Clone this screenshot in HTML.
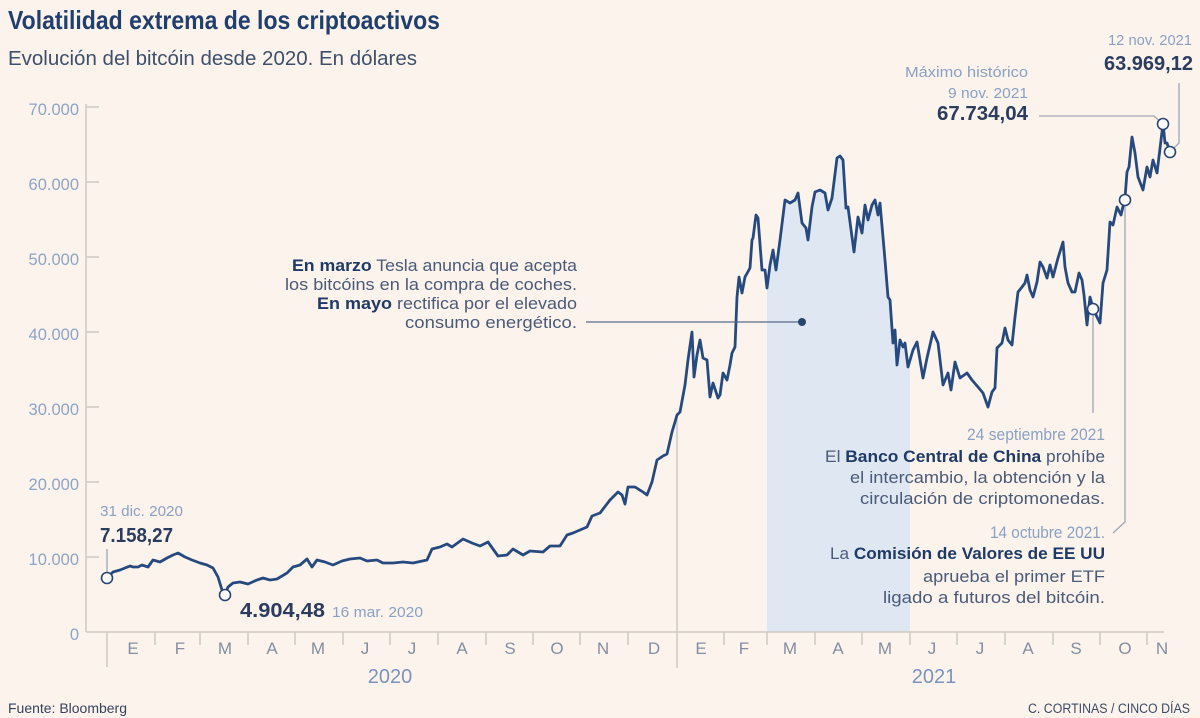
<!DOCTYPE html>
<html><head><meta charset="utf-8"><style>
html,body{margin:0;padding:0;background:#fcf4ec;}
svg{display:block;font-family:"Liberation Sans",sans-serif;}
</style></head><body>
<svg width="1200" height="718" viewBox="0 0 1200 718" xmlns="http://www.w3.org/2000/svg">
<defs>
<clipPath id="sh"><rect x="767" y="0" width="143" height="632"/></clipPath>
</defs>
<rect width="1200" height="718" fill="#fcf4ec"/>

<!-- title -->
<text x="8" y="29" font-size="26" font-weight="bold" fill="#213f6e" textLength="432" lengthAdjust="spacingAndGlyphs">Volatilidad extrema de los criptoactivos</text>
<text x="8" y="65" font-size="20" fill="#3e4f6c" textLength="409" lengthAdjust="spacingAndGlyphs">Evolución del bitcóin desde 2020. En dólares</text>

<!-- shaded area -->
<g clip-path="url(#sh)">
<polygon fill="#dfe7f3" points="767,632 767,288 770,265 773,250 776,270 780,240 785,200 790,203 795,200 798,193 802,223 806,228 808,240 812,207 815,192 820,190 825,193 828,210 832,198 837,158 840,156 843,160 846,208 848,207 852,237 854,252 858,217 862,233 865,205 868,220 872,205 875,200 878,215 880,203 885,260 888,297 890,300 893,343 895,330 897,365 900,340 903,347 905,343 908,367 913,350 917,342 917,632"/>
</g>

<!-- y axis -->
<g stroke="#cdc8c3" stroke-width="1.5" fill="none">
<line x1="86" y1="104" x2="86" y2="632"/>
<line x1="86" y1="107" x2="99" y2="107"/>
<line x1="86" y1="182" x2="99" y2="182"/>
<line x1="86" y1="257" x2="99" y2="257"/>
<line x1="86" y1="332" x2="99" y2="332"/>
<line x1="86" y1="407" x2="99" y2="407"/>
<line x1="86" y1="482" x2="99" y2="482"/>
<line x1="86" y1="557" x2="99" y2="557"/>
<line x1="86" y1="632" x2="1164" y2="632"/>
<line x1="107" y1="632" x2="107" y2="667"/>
<line x1="677" y1="418" x2="677" y2="668"/>
<!-- month ticks -->
<line x1="155" y1="632" x2="155" y2="645"/>
<line x1="200" y1="632" x2="200" y2="645"/>
<line x1="248" y1="632" x2="248" y2="645"/>
<line x1="295" y1="632" x2="295" y2="645"/>
<line x1="343" y1="632" x2="343" y2="645"/>
<line x1="390" y1="632" x2="390" y2="645"/>
<line x1="438" y1="632" x2="438" y2="645"/>
<line x1="486" y1="632" x2="486" y2="645"/>
<line x1="533" y1="632" x2="533" y2="645"/>
<line x1="580" y1="632" x2="580" y2="645"/>
<line x1="628" y1="632" x2="628" y2="645"/>
<line x1="724" y1="632" x2="724" y2="645"/>
<line x1="767" y1="632" x2="767" y2="645"/>
<line x1="815" y1="632" x2="815" y2="645"/>
<line x1="862" y1="632" x2="862" y2="645"/>
<line x1="910" y1="632" x2="910" y2="645"/>
<line x1="957" y1="632" x2="957" y2="645"/>
<line x1="1005" y1="632" x2="1005" y2="645"/>
<line x1="1053" y1="632" x2="1053" y2="645"/>
<line x1="1100" y1="632" x2="1100" y2="645"/>
<line x1="1147" y1="632" x2="1147" y2="645"/>
</g>

<g font-size="16.5" fill="#8da4c6" text-anchor="end">
<text x="79" y="115">70.000</text>
<text x="79" y="190">60.000</text>
<text x="79" y="265">50.000</text>
<text x="79" y="340">40.000</text>
<text x="79" y="415">30.000</text>
<text x="79" y="490">20.000</text>
<text x="79" y="565">10.000</text>
<text x="79" y="640">0</text>
</g>

<g font-size="17" fill="#848da0" text-anchor="middle">
<text x="133" y="654">E</text>
<text x="180" y="654">F</text>
<text x="225" y="654">M</text>
<text x="272" y="654">A</text>
<text x="318" y="654">M</text>
<text x="365" y="654">J</text>
<text x="412" y="654">J</text>
<text x="462" y="654">A</text>
<text x="510" y="654">S</text>
<text x="557" y="654">O</text>
<text x="603" y="654">N</text>
<text x="654" y="654">D</text>
<text x="701" y="654">E</text>
<text x="744" y="654">F</text>
<text x="790" y="654">M</text>
<text x="838" y="654">A</text>
<text x="885" y="654">M</text>
<text x="932" y="654">J</text>
<text x="980" y="654">J</text>
<text x="1028" y="654">A</text>
<text x="1076" y="654">S</text>
<text x="1125" y="654">O</text>
<text x="1162" y="654">N</text>
</g>
<g font-size="20" fill="#7b93bd" text-anchor="middle">
<text x="390" y="683">2020</text>
<text x="934" y="683">2021</text>
</g>

<!-- price line -->
<polyline fill="none" stroke="#264a80" stroke-width="2.8" stroke-linejoin="round" stroke-linecap="round" points="107,578 113,572 120,570 125,568 130,566 133,567 138,567 142,565 148,567 153,560 160,562 167,558 173,555 178,553 185,557 192,560 200,563 207,565 213,568 218,577 222,590 225,595 228,587 233,583 240,582 248,584 257,580 263,578 270,580 277,579 287,573 293,567 300,565 307,559 312,567 317,560 325,562 333,565 342,561 350,559 360,558 367,561 377,560 383,563 393,563 403,562 413,563 427,560 432,549 440,547 447,544 452,547 463,539 472,543 480,546 488,542 498,556 507,555 513,549 523,555 530,551 543,552 550,546 560,546 567,535 573,533 580,530 587,527 592,516 600,513 610,500 618,492 622,495 625,504 628,487 635,487 643,492 647,495 652,482 657,460 663,456 667,454 672,432 675,422 677,415 680,412 685,385 688,360 692,332 694,377 697,355 700,340 703,358 707,360 710,397 713,383 716,392 718,398 720,395 723,373 727,380 730,365 732,353 735,347 737,297 739,277 742,293 745,277 750,268 752,240 753,238 756,215 758,218 762,270 765,270 767,288 770,265 773,250 776,270 780,240 785,200 790,203 795,200 798,193 802,223 806,228 808,240 812,207 815,192 820,190 825,193 828,210 832,198 837,158 840,156 843,160 846,208 848,207 852,237 854,252 858,217 862,233 865,205 868,220 872,205 875,200 878,215 880,203 885,260 888,297 890,300 893,343 895,330 897,365 900,340 903,347 905,343 908,367 913,350 917,342 923,378 927,358 933,332 938,343 943,385 948,373 951,390 955,362 960,378 967,373 972,380 978,387 983,393 988,407 992,392 995,388 997,348 1002,343 1005,328 1008,340 1012,345 1015,317 1018,292 1022,287 1025,283 1027,275 1030,290 1033,297 1037,282 1040,262 1043,267 1047,278 1050,265 1053,277 1058,258 1063,242 1065,267 1068,283 1072,292 1075,292 1079,273 1082,280 1084,295 1087,325 1090,297 1093,308 1097,317 1100,323 1103,283 1107,270 1110,222 1113,225 1117,207 1121,215 1125,198 1127,172 1129,167 1132,137 1135,153 1138,177 1143,190 1147,167 1150,177 1153,160 1157,173 1162,132 1163,123 1165,143 1167,143 1170,152"/>

<!-- leader lines -->
<g stroke="#9ea6b4" stroke-width="1.3" fill="none">
<line x1="107" y1="549" x2="107" y2="573"/>
<line x1="1093" y1="314" x2="1093" y2="413"/>
<polyline points="1125,205 1125,522 1113,533"/>
<polyline points="1039,116 1154,116 1163,124"/>
<polyline points="1170,152 1179,143 1179,83"/>
</g>
<line x1="586" y1="322" x2="802" y2="322" stroke="#5a6b88" stroke-width="1.2"/>
<circle cx="802" cy="322" r="4" fill="#2a4470"/>

<!-- markers -->
<g fill="#ffffff" stroke="#2a4470" stroke-width="1.6">
<circle cx="107" cy="578" r="5.5"/>
<circle cx="225" cy="595" r="5.5"/>
<circle cx="1093" cy="309" r="5.5"/>
<circle cx="1125" cy="200" r="5.5"/>
<circle cx="1163" cy="124" r="5.5"/>
<circle cx="1170" cy="152" r="5.5"/>
</g>

<!-- annotations left -->
<text x="100" y="516" font-size="15" fill="#8aa0c4" textLength="83" lengthAdjust="spacingAndGlyphs">31 dic. 2020</text>
<text x="100" y="542" font-size="20" font-weight="bold" fill="#2b3c5e" textLength="73" lengthAdjust="spacingAndGlyphs">7.158,27</text>
<text x="240" y="617" font-size="20" font-weight="bold" fill="#2b3c5e" textLength="85" lengthAdjust="spacingAndGlyphs">4.904,48</text>
<text x="332" y="617" font-size="15" fill="#8aa0c4" textLength="91" lengthAdjust="spacingAndGlyphs">16 mar. 2020</text>

<!-- Tesla -->
<g font-size="16.5" fill="#4a5a78">
<text x="292" y="271" textLength="285" lengthAdjust="spacingAndGlyphs"><tspan font-weight="bold" fill="#1f3a66">En marzo</tspan> Tesla anuncia que acepta</text>
<text x="285" y="290" textLength="292" lengthAdjust="spacingAndGlyphs">los bitcóins en la compra de coches.</text>
<text x="317" y="309" textLength="260" lengthAdjust="spacingAndGlyphs"><tspan font-weight="bold" fill="#1f3a66">En mayo</tspan> rectifica por el elevado</text>
<text x="405" y="328" textLength="172" lengthAdjust="spacingAndGlyphs">consumo energético.</text>
</g>

<!-- right annotations -->
<g font-size="17" fill="#4a5a78">
<text x="967" y="440" fill="#8aa0c4" textLength="138" lengthAdjust="spacingAndGlyphs">24 septiembre 2021</text>
<text x="825" y="462" textLength="280" lengthAdjust="spacingAndGlyphs">El <tspan font-weight="bold" fill="#1f3a66">Banco Central de China</tspan> prohíbe</text>
<text x="850" y="483" textLength="255" lengthAdjust="spacingAndGlyphs">el intercambio, la obtención y la</text>
<text x="860" y="504" textLength="245" lengthAdjust="spacingAndGlyphs">circulación de criptomonedas.</text>
<text x="990" y="538" fill="#8aa0c4" textLength="115" lengthAdjust="spacingAndGlyphs">14 octubre 2021.</text>
<text x="830" y="559" textLength="275" lengthAdjust="spacingAndGlyphs">La <tspan font-weight="bold" fill="#1f3a66">Comisión de Valores de EE UU</tspan></text>
<text x="923" y="582" textLength="182" lengthAdjust="spacingAndGlyphs">aprueba el primer ETF</text>
<text x="883" y="603" textLength="222" lengthAdjust="spacingAndGlyphs">ligado a futuros del bitcóin.</text>
</g>

<!-- top right -->
<text x="1108" y="45" font-size="15" fill="#8aa0c4" textLength="84" lengthAdjust="spacingAndGlyphs">12 nov. 2021</text>
<text x="1104" y="70" font-size="20" font-weight="bold" fill="#2b3c5e" textLength="89" lengthAdjust="spacingAndGlyphs">63.969,12</text>
<text x="905" y="77" font-size="15" fill="#8aa0c4" textLength="123" lengthAdjust="spacingAndGlyphs">Máximo histórico</text>
<text x="948" y="98" font-size="15" fill="#8aa0c4" textLength="80" lengthAdjust="spacingAndGlyphs">9 nov. 2021</text>
<text x="937" y="120" font-size="20" font-weight="bold" fill="#2b3c5e" textLength="91" lengthAdjust="spacingAndGlyphs">67.734,04</text>

<!-- footer -->
<text x="8" y="713" font-size="13.5" fill="#34425c" textLength="119" lengthAdjust="spacingAndGlyphs">Fuente: Bloomberg</text>
<text x="1028" y="713" font-size="13.5" fill="#3a4a66" textLength="162" lengthAdjust="spacingAndGlyphs">C. CORTINAS / CINCO DÍAS</text>
</svg>
</body></html>
